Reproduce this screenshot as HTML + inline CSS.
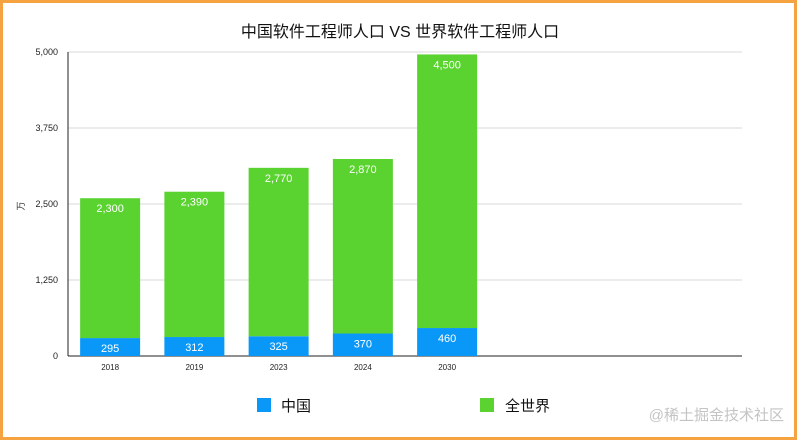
<!DOCTYPE html>
<html><head><meta charset="utf-8"><style>
html,body{margin:0;padding:0;background:#fff}
#wrap{position:relative;width:797px;height:440px;box-sizing:border-box;border:3px solid #f4a340;overflow:hidden;font-family:"Liberation Sans","Noto Sans CJK SC",sans-serif}
svg{position:absolute;left:-3px;top:-3px}
</style></head><body>
<div id="wrap">
<svg id="chart" width="797" height="440">
<text x="400" y="37" font-size="16" text-anchor="middle" fill="#111">中国软件工程师人口 VS 世界软件工程师人口</text>
<text transform="translate(24,206) rotate(-90)" font-size="9" text-anchor="middle" fill="#333">万</text>
<g id="grid"></g><g id="bars"></g>
<rect x="257" y="398" width="14" height="14" fill="#0a98f8"/>
<text x="281" y="411" font-size="15" fill="#111">中国</text>
<rect x="480" y="398" width="14" height="14" fill="#5ad330"/>
<text x="505" y="411" font-size="15" fill="#111">全世界</text>
<text x="784" y="420" font-size="15" text-anchor="end" fill="#c4c4c4">@稀土掘金技术社区</text>
</svg></div>
<script>
const categories=["2018","2019","2023","2024","2030"];
const china=[295,312,325,370,460];
const world=[2300,2390,2770,2870,4500];
const ticks=[0,1250,2500,3750,5000];
const tickLabels=["0","1,250","2,500","3,750","5,000"];
const NS="http://www.w3.org/2000/svg";
const x0=68,x1=742,y0=356,yTop=52,ymax=5000,slots=8;
const slotW=(x1-x0)/slots;
const y=v=>y0-v/ymax*(y0-yTop);
const xc=i=>x0+slotW*(i+0.5);
function mk(t,a,p){const e=document.createElementNS(NS,t);for(const k in a)e.setAttribute(k,a[k]);p.appendChild(e);return e;}
const g=document.getElementById('grid'),b=document.getElementById('bars');
ticks.forEach((t,i)=>{
 if(t>0){const l=mk('line',{x1:x0,x2:x1,y1:y(t),y2:y(t),stroke:'#d8d8d8','stroke-width':1},g);
 
 }
 const tx=mk('text',{x:58,y:y(t)+3,'font-size':9,'text-anchor':'end',fill:'#222'},g);tx.textContent=tickLabels[i];
 
 
});
const ya=mk('line',{x1:x0,x2:x0,y1:yTop,y2:y0,stroke:'#222','stroke-width':1},g);


const xa=mk('line',{x1:x0,x2:x1,y1:y0,y2:y0,stroke:'#222','stroke-width':1},g);


categories.forEach((c,i)=>{
 const w=60,l=xc(i)-w/2;
 const r1=mk('rect',{x:l,y:y(china[i]),width:w,height:y0-y(china[i]),fill:'#0a98f8'},b);
 
 
 const tot=china[i]+world[i];
 const r2=mk('rect',{x:l,y:y(tot),width:w,height:y(china[i])-y(tot),fill:'#5ad330'},b);
 
 
 const t1=mk('text',{x:xc(i),y:y(china[i])+14,'font-size':11,'text-anchor':'middle',fill:'#fff'},b);t1.textContent=china[i].toLocaleString('en-US');
 
 
 const t2=mk('text',{x:xc(i),y:y(tot)+14,'font-size':11,'text-anchor':'middle',fill:'#fff'},b);t2.textContent=world[i].toLocaleString('en-US');
 
 
 const xl=mk('text',{x:xc(i),y:370,'font-size':8,'text-anchor':'middle',fill:'#222'},b);xl.textContent=c;
 
 
});
</script>
</body></html>
